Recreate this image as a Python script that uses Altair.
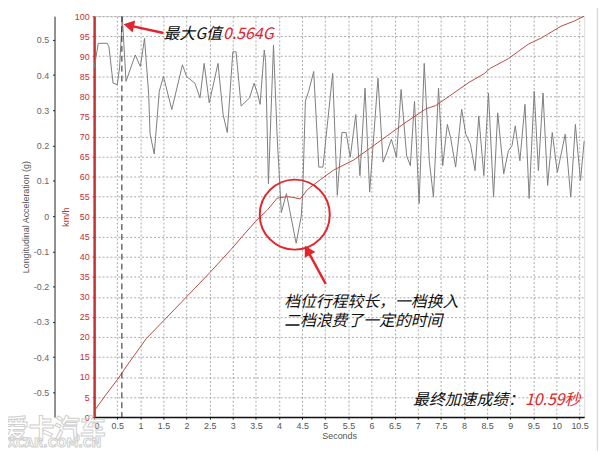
import altair as alt
import pandas as pd

# ---- data ----
time_g = [0.0, 0.09, 0.285, 0.32, 0.41, 0.5, 0.55, 0.61, 0.69, 0.89, 1.0, 1.09, 1.18, 1.21, 1.30,
          1.41, 1.5, 1.68, 1.91, 2.0, 2.18, 2.29, 2.38, 2.49, 2.68, 2.79, 2.88, 3.0, 3.07, 3.18,
          3.36, 3.46, 3.54, 3.59, 3.68, 3.71, 3.77, 3.88, 3.96, 4.05, 4.16, 4.37, 4.48, 4.51, 4.57,
          4.64, 4.75, 4.86, 4.95, 5.16, 5.26, 5.36, 5.45, 5.54, 5.66, 5.75, 5.86, 5.96, 6.14, 6.25,
          6.32, 6.43, 6.54, 6.64, 6.76, 6.84, 6.93, 7.03, 7.14, 7.25, 7.34, 7.45, 7.54, 7.64, 7.71,
          7.82, 7.95, 8.04, 8.14, 8.24, 8.32, 8.43, 8.53, 8.64, 8.73, 8.86, 8.96, 9.04, 9.11, 9.21,
          9.32, 9.41, 9.52, 9.61, 9.71, 9.81, 9.91, 10.02, 10.19, 10.31, 10.41, 10.52, 10.6]
accel_g = [0.419, 0.49, 0.49, 0.48, 0.377, 0.373, 0.42, 0.564, 0.382, 0.457, 0.424, 0.504, 0.345, 0.233, 0.176,
           0.354, 0.396, 0.302, 0.429, 0.396, 0.377, 0.335, 0.433, 0.321, 0.433, 0.288, 0.237, 0.466, 0.466, 0.312,
           0.335, 0.377, 0.345, 0.317, 0.471, 0.438, 0.092, 0.485, 0.223, 0.01, 0.064, -0.077, 0.0, 0.06, 0.326,
           0.354, 0.41, 0.139, 0.139, 0.405, 0.059, 0.237, 0.237, 0.167, 0.288, 0.115, 0.363, 0.068, 0.391, 0.153,
           0.176, 0.218, 0.167, 0.359, 0.171, 0.143, 0.326, 0.036, 0.433, 0.157, 0.054, 0.363, 0.143, 0.26, 0.223,
           0.139, 0.303, 0.232, 0.204, 0.129, 0.284, 0.115, 0.349, 0.054, 0.293, 0.12, 0.185, 0.2, 0.256, 0.157,
           0.317, 0.05, 0.354, 0.129, 0.349, 0.087, 0.237, 0.124, 0.232, 0.054, 0.26, 0.101, 0.213]

time_v = [0.0, 0.25, 0.5, 0.75, 1.0, 1.13, 1.5, 2.0, 2.5, 2.96, 3.2, 3.46, 3.75, 3.96, 4.18, 4.3,
          4.46, 4.61, 4.89, 5.18, 5.61, 5.96, 6.32, 6.75, 7.18, 7.39, 7.75, 8.11, 8.43, 8.57, 8.96,
          9.39, 9.68, 10.1, 10.39, 10.6]
speed_kmh = [1.5, 5.5, 9.3, 13.5, 17.5, 19.6, 24, 30, 36, 41.8, 45, 48.4, 51.7, 54.6, 55, 54.8,
             54.4, 56.7, 59.2, 61.6, 64.1, 67, 70, 73.6, 76.9, 77.7, 80.6, 83.5, 85.6, 87, 89.4,
             93, 94.6, 97.5, 98.8, 100]

x_ticks = [i * 0.5 for i in range(22)]
kmh_ticks = list(range(0, 101, 5))
g_ticks = [round(-0.5 + 0.1 * i, 1) for i in range(11)]

max_g_time = [0.6]

# annotations (data units: seconds, km/h)
arrow1 = {"t": [1.5], "v": [95.8], "t2": [0.75], "v2": [97.7]}
arrow2 = {"t": [5.01], "v": [33.2], "t2": [4.615], "v2": [41.6]}
circle_pos = {"t": [4.34], "v": [50.5]}
txt_black = {"t": [1.5, 4.11, 4.11, 6.9],
             "v": [95.6, 28.7, 24.0, 4.3],
             "label": ["最大G值", "档位行程较长，一档换入", "二档浪费了一定的时间", "最终加速成绩："]}
txt_red = {"t": [2.79, 9.32], "v": [95.6, 4.3], "label": ["0.564G", "10.59秒"]}
watermark = {"t": [-0.86, -0.86], "v": [-3.2, -6.4], "label": ["爱卡汽车", "XCAR.COM.CN"]}
frame_right = {"t": [10.885], "v": [-9], "v2": [104]}

RED = "#e3242b"
AXRED = "#c23232"
LABEL_FONT = "Liberation Sans"
CJK = "Noto Sans CJK SC"

XS = alt.Scale(domain=[0, 10.6], nice=False, zero=False)
VS = alt.Scale(domain=[0, 100], nice=False)
GS = alt.Scale(domain=[-0.570, 0.567], nice=False, zero=False)

x_axis = alt.Axis(values=x_ticks, title="Seconds", grid=True, gridDash=[2, 2], gridColor="#a9a9a9",
                  domainColor="#111", domainWidth=1.5, tickColor="#111", tickSize=2,
                  labelFont=LABEL_FONT, labelFontSize=9, labelColor="#555", labelPadding=3,
                  labelExpr="format(datum.value, '~g')",
                  titleFont=LABEL_FONT, titleFontSize=9, titleFontWeight="normal", titleColor="#555",
                  titlePadding=1)
v_axis = alt.Axis(values=kmh_ticks, orient="left", title="km/h", grid=True, gridDash=[2, 2],
                  gridColor="#a9a9a9", domainColor=AXRED, domainWidth=2.5, tickColor=AXRED, tickSize=2,
                  labelFont=LABEL_FONT, labelFontSize=9, labelColor=AXRED, labelPadding=3,
                  titleFont=LABEL_FONT, titleFontSize=9, titleFontWeight="normal", titleColor=AXRED,
                  titlePadding=4)
g_axis = alt.Axis(values=g_ticks, orient="left", offset=40, grid=False,
                  title="Longitudinal Acceleration (g)", domainColor="#222", tickColor="#222", tickSize=2,
                  labelFont=LABEL_FONT, labelFontSize=9, labelColor="#666", labelPadding=4,
                  labelExpr="datum.value == 0 ? '0' : replace(format(datum.value, '.1f'), '\u2212', '-')",
                  titleFont=LABEL_FONT, titleFontSize=9, titleFontWeight="normal", titleColor="#555",
                  titlePadding=3)


def X(field):
    return alt.X(field, scale=XS, axis=x_axis)


def V(field):
    return alt.Y(field, scale=VS, axis=v_axis)


speed_df = pd.DataFrame({"t": time_v, "v": speed_kmh})
g_df = pd.DataFrame({"t": time_g, "g": accel_g})

speed = alt.Chart(speed_df).mark_line(color="#b84a44", strokeWidth=1).encode(
    x=X("t:Q"), y=V("v:Q"))

vline = alt.Chart(pd.DataFrame({"t": max_g_time})).mark_rule(
    color="#222", strokeDash=[6, 4], strokeWidth=1).encode(x=X("t:Q"))


def arrow(d, ang):
    df = pd.DataFrame(d)
    shaft = alt.Chart(df).mark_rule(color=RED, strokeWidth=2.5).encode(
        x=X("t:Q"), y=V("v:Q"), x2="t2:Q", y2="v2:Q")
    head = alt.Chart(df).mark_point(shape="triangle-up", filled=True, size=150, color=RED,
                                    opacity=1, angle=ang).encode(x=X("t2:Q"), y=V("v2:Q"))
    return [shaft, head]


circle = alt.Chart(pd.DataFrame(circle_pos)).mark_point(
    shape="circle", size=5000, filled=False, color=RED, strokeWidth=2, opacity=1).encode(
    x=X("t:Q"), y=V("v:Q"))

t_black = alt.Chart(pd.DataFrame(txt_black)).mark_text(
    align="left", baseline="middle", font=CJK, fontSize=16, fontStyle="italic", color="#111").encode(
    x=X("t:Q"), y=V("v:Q"), text="label:N")
t_red = alt.Chart(pd.DataFrame(txt_red)).mark_text(
    align="left", baseline="middle", font=CJK, fontSize=16, fontStyle="italic", color=RED).encode(
    x=X("t:Q"), y=V("v:Q"), text="label:N")

wm_df = pd.DataFrame(watermark)
wm1 = alt.Chart(wm_df.iloc[[0]]).mark_text(
    align="center", baseline="middle", font=CJK, fontSize=26, fontWeight="bold",
    fillOpacity=0, stroke="#cfcfcf", strokeWidth=1).encode(
    x=X("t:Q"), y=V("v:Q"), text="label:N")
wm2 = alt.Chart(wm_df.iloc[[1]]).mark_text(
    align="center", baseline="middle", font="DejaVu Sans", fontSize=12, fontWeight="bold",
    fillOpacity=0, stroke="#cfcfcf", strokeWidth=1).encode(
    x=X("t:Q"), y=V("v:Q"), text="label:N")

frame = alt.Chart(pd.DataFrame(frame_right)).mark_rule(color="#cfcfcf", strokeWidth=1).encode(
    x=X("t:Q"), y=V("v:Q"), y2="v2:Q")

inner = alt.layer(speed, vline, circle, *arrow(arrow1, 282), *arrow(arrow2, 331),
                  t_black, t_red, wm1, wm2, frame)

gline = alt.Chart(g_df).mark_line(color="#7d7d7d", strokeWidth=1).encode(
    x=X("t:Q"),
    y=alt.Y("g:Q", scale=GS, axis=g_axis),
)

chart = alt.layer(gline, inner).resolve_scale(y="independent").properties(
    width=495, height=405,
    autosize=alt.AutoSizeParams(type="none"),
    padding={"left": 87, "top": 6, "right": 16, "bottom": 32},
).configure_view(stroke="#555", strokeWidth=1).configure(background="white")

chart.save("out.html", embed_options={"renderer": "svg", "actions": False})
